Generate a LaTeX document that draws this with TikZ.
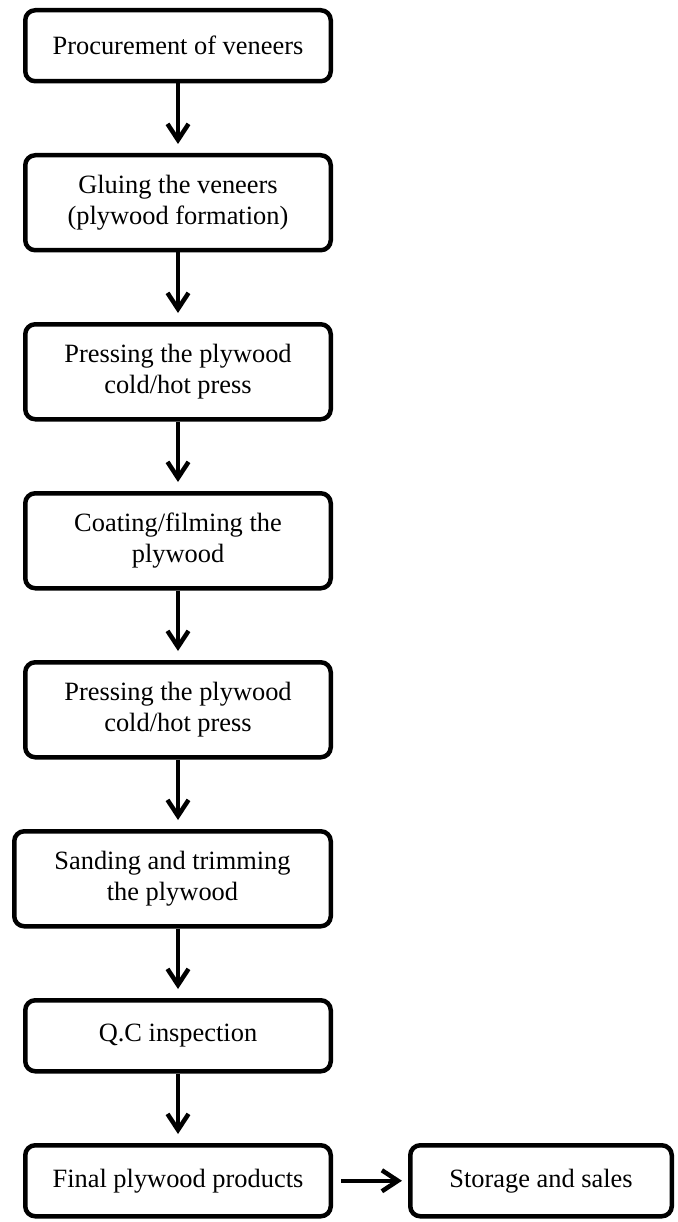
\documentclass[tikz,border=0pt]{standalone}
\usepackage{fontspec}
\setmainfont{Liberation Serif}
\usetikzlibrary{shapes.geometric, arrows, arrows.meta, positioning}

\tikzset{
  pbox/.style={draw, line width=4.5pt, rounded corners=10pt, minimum width=305.5pt,
    align=center, inner sep=2pt, font=\fontsize{26.4}{30.4}\selectfont},
  tallbox/.style={pbox, minimum height=95pt},
  flatbox/.style={pbox, minimum height=71pt},
  flow/.style={line width=4.5pt, -{Straight Barb[length=16pt,width=21pt]}, shorten >=9pt}
}

\begin{document}
\begin{tikzpicture}
    \useasboundingbox (0,0) rectangle (677pt,-1222pt);

		\node (proc) [flatbox] at (178pt,-45.75pt) {Procurement of veneers};
		\node[below =69.5pt of proc] (glue) [tallbox] {Gluing the veneers\\(plywood formation)};
		\node[below =69.5pt of glue] (pressa) [tallbox] {Pressing the plywood\\cold/hot press};
		\node[below =69.5pt of pressa] (coat) [tallbox] {Coating/filming the\\plywood};
		\node[below =69.5pt of coat] (pressb) [tallbox] {Pressing the plywood\\cold/hot press};
		\node[below =69.5pt of pressb, xshift=-5.5pt] (sand) [tallbox, minimum width=316.5pt] {Sanding and trimming\\the plywood};
		\node[below =69.5pt of sand, xshift=5.5pt] (qc) [flatbox] {Q.C inspection};
		\node[below =69.5pt of qc] (final) [flatbox] {Final plywood products};
		\node[right =75pt of final] (store) [flatbox, minimum width=261.5pt] {Storage and sales};

		\draw [flow] (proc) edge (glue) (glue) edge (pressa) (pressa) edge (coat) (coat) edge (pressb);
		\draw [flow] (pressb.south) -- (pressb.south |- sand.north);
		\draw [flow] (sand.south -| qc.north) -- (qc.north);
		\draw [flow] (qc) edge (final);
		\draw [flow, shorten <=8pt, shorten >=6pt] (final) -- (store);
\end{tikzpicture}
\end{document}
